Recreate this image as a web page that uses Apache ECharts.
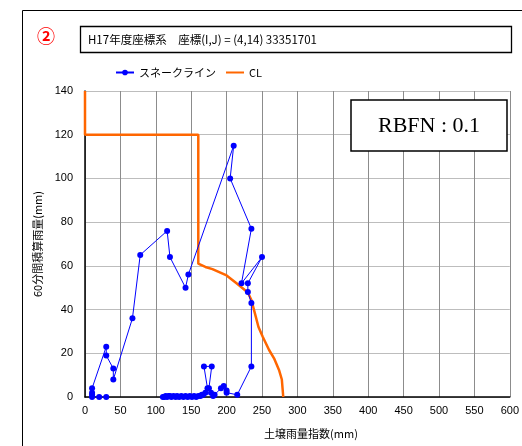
<!DOCTYPE html>
<html><head><meta charset="utf-8">
<script src="https://cdn.jsdelivr.net/npm/echarts@6/dist/echarts.min.js"></script>
<style>html,body{margin:0;padding:0;background:#fff}#c{width:522px;height:446px}</style>
</head><body><div id="c"></div>
<script>
// Snake line (soil rain index x, 60-min rainfall y), in drawing order
var snakeX = [30,20,10,10,10,10,30,30,40,40,67,78,116,120,142,146,210,205,235,221,250,230,230,235,235,215,200,200,196,192,183,181,178,175,179,168,173,170,167,165,163,160,157,154,151,148,145,142,139,136,133,130,128,125,122,120,118,116,114,112,110];
var snakeY = [0,0,0,1,2,4,23,19,13,8,36,65,76,64,50,56,115,100,77,52,64,52,48,43,14,1,2,3,5,4,1,0.5,2,4,14,14,4,2,1,1,0.5,0.5,0,0.5,0,0.5,0,0.5,0,0.5,0,0.5,0,0.5,0,0.5,0.5,0,0.5,0,0];
// Critical line (CL)
var clX = [0,0,160,160,170,180,200,214,230,235,241,245,251,260,267,274,278,279,280];
var clY = [140,120,120,61,59.5,58.5,55.6,52,47.8,44.4,37,32,27.6,21.5,17.7,12.4,8,4,0];
var xTicks = {min:0,max:600,step:50};
var yTicks = {min:0,max:140,step:20};
var titleText = 'H17年度座標系\u3000座標(I,J) = (4,14) 33351701';
var rbfnText = 'RBFN : 0.1';
var legendNames = ['スネークライン','CL'];

function zip(a,b){return a.map(function(v,i){return [v,b[i]];});}
var chart = echarts.init(document.getElementById('c'));
var jp = '"Noto Sans CJK JP", sans-serif';
chart.setOption({
  animation:false,
  textStyle:{fontFamily:jp},
  grid:{left:85,right:7,top:91,bottom:49},
  legend:{left:110,top:62,itemWidth:18,itemHeight:7,itemGap:9,
    textStyle:{fontSize:11,color:'#000',fontFamily:jp},
    data:[{name:legendNames[0]},{name:legendNames[1],itemStyle:{opacity:0}}]},
  xAxis:{type:'value',min:xTicks.min,max:xTicks.max,interval:xTicks.step,
    axisLine:{lineStyle:{color:'#000',width:1.5}},axisTick:{show:false},
    axisLabel:{color:'#000',fontSize:11,margin:8,fontFamily:'"Liberation Sans", Arial'},
    splitLine:{show:true,lineStyle:{color:'#8c8c8c',width:1}}},
  yAxis:{type:'value',min:yTicks.min,max:yTicks.max,interval:yTicks.step,
    name:'60分間積算雨量(mm)',nameLocation:'middle',nameGap:42,nameRotate:90,
    nameTextStyle:{fontSize:11,color:'#000',fontFamily:jp},
    axisLine:{show:true,lineStyle:{color:'#000',width:1.5}},axisTick:{show:false},
    axisLabel:{color:'#000',fontSize:11,margin:12,fontFamily:'"Liberation Sans", Arial'},
    splitLine:{show:true,lineStyle:{color:'#bdbdbd',width:1}}},
  graphic:[
    {type:'rect',shape:{x:22.5,y:10.5,width:520,height:460},style:{fill:null,stroke:'#000',lineWidth:1},z:-10},
    {type:'text',x:46,y:36,style:{text:'②',font:'bold 18px "Noto Sans CJK JP"',fill:'#ff0000',align:'center',verticalAlign:'middle'}},
    {type:'rect',shape:{x:80.5,y:26.5,width:431,height:26},style:{fill:'#fff',stroke:'#000',lineWidth:1.3}},
    {type:'text',x:88,y:40,style:{text:titleText,font:'11.5px "Noto Sans CJK JP"',fill:'#000',verticalAlign:'middle'}},
    {type:'rect',shape:{x:351,y:100,width:156,height:51},style:{fill:'#fff',stroke:'#000',lineWidth:1.5},z:100},
    {type:'text',x:429,y:126,style:{text:rbfnText,font:'22px "Liberation Serif", "DejaVu Serif", serif',fill:'#000',align:'center',verticalAlign:'middle'},z:101},
    {type:'text',x:311,y:434,style:{text:'土壌雨量指数(mm)',font:'11px "Noto Sans CJK JP"',fill:'#000',align:'center',verticalAlign:'middle'}}
  ],
  series:[
    {name:legendNames[0],type:'line',data:zip(snakeX,snakeY),symbol:'circle',symbolSize:6,
      itemStyle:{color:'#0000ff'},lineStyle:{color:'#0000ff',width:1},z:3},
    {name:legendNames[1],type:'line',data:zip(clX,clY),symbol:'none',
      itemStyle:{color:'#ff6600'},lineStyle:{color:'#ff6600',width:2.5},z:2}
  ]
});
</script></body></html>
